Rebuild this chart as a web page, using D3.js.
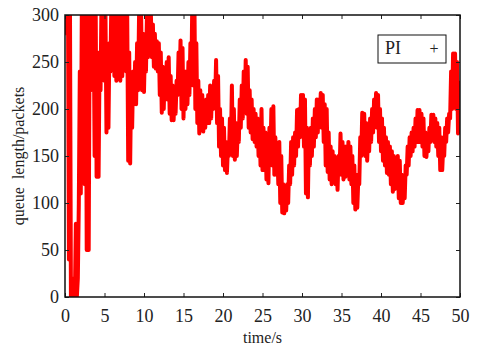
<!DOCTYPE html>
<html>
<head>
<meta charset="utf-8">
<script src="https://cdn.jsdelivr.net/npm/d3@7"></script>
<style>
  body { margin: 0; background: #fff; }
  svg text { font-family: "Liberation Serif", "DejaVu Serif", serif; fill: #222; }
</style>
</head>
<body>
<script>
// queue length (PI), every 0.25 s as the low / high edge of the noisy trace
var step = 0.25;
var qLow = [
  300, 280, 40, 0, 0, 0, 0, 100, 110, 180, 120, 50, 50, 220, 230, 150, 128, 128, 220, 240,
  230, 175, 180, 240, 250, 235, 230, 240, 230, 235, 250, 240, 145, 142, 180, 205, 205, 220, 250, 220,
  218, 240, 255, 265, 255, 245, 243, 240, 215, 196, 200, 215, 210, 195, 188, 188, 195, 215, 225, 200,
  190, 200, 205, 215, 240, 225, 200, 185, 174, 180, 176, 180, 185, 185, 190, 200, 205, 185, 160, 150,
  140, 135, 132, 150, 160, 150, 146, 150, 165, 180, 190, 200, 195, 180, 175, 168, 165, 160, 150, 140,
  135, 135, 125, 121, 150, 140, 130, 130, 120, 100, 90, 89, 92, 100, 120, 130, 140, 150, 160, 170,
  180, 160, 110, 106, 140, 150, 160, 170, 175, 185, 180, 165, 140, 133, 125, 120, 125, 120, 114, 130,
  130, 125, 128, 130, 125, 120, 100, 93, 95, 120, 150, 160, 150, 145, 155, 165, 175, 185, 180, 165,
  155, 145, 140, 132, 130, 120, 112, 115, 120, 105, 100, 100, 105, 130, 140, 150, 155, 160, 165, 165,
  165, 160, 150, 149, 155, 165, 170, 165, 160, 150, 135, 135, 150, 165, 175, 190, 200, 220, 200, 174];
var qHigh = [
  320, 320, 320, 20, 10, 78, 20, 240, 300, 320, 320, 250, 300, 320, 300, 320, 260, 250, 320, 320,
  300, 260, 270, 320, 320, 300, 280, 320, 320, 300, 320, 300, 260, 230, 240, 250, 270, 300, 310, 280,
  270, 300, 305, 300, 290, 280, 272, 270, 260, 245, 240, 250, 255, 235, 225, 220, 230, 260, 273, 265,
  240, 240, 250, 270, 320, 320, 270, 230, 220, 215, 205, 210, 215, 225, 220, 230, 252, 235, 200, 190,
  180, 165, 160, 190, 225, 200, 185, 180, 210, 225, 240, 252, 245, 220, 210, 200, 195, 190, 185, 200,
  180, 175, 165, 180, 200, 203, 170, 160, 165, 150, 120, 115, 120, 140, 165, 170, 175, 199, 200, 215,
  215, 210, 180, 175, 180, 190, 200, 210, 210, 217, 215, 205, 200, 175, 160, 155, 150, 145, 150, 174,
  165, 160, 160, 165, 160, 150, 140, 130, 125, 170, 196, 195, 185, 175, 190, 200, 210, 217, 215, 200,
  190, 180, 170, 165, 160, 155, 150, 145, 150, 145, 130, 125, 140, 160, 170, 175, 180, 190, 199, 199,
  195, 190, 175, 170, 180, 194, 194, 190, 185, 180, 170, 160, 180, 190, 195, 240, 259, 259, 250, 230];
var xTicks = [0, 5, 10, 15, 20, 25, 30, 35, 40, 45, 50];
var yTicks = [0, 50, 100, 150, 200, 250, 300];
var legendLabel = "PI";

var width = 480, height = 347;
var padL = 65, padR = 460, padT = 15, padB = 297;

var svg = d3.select("body").append("svg")
  .attr("width", width)
  .attr("height", height);

var x = d3.scaleLinear().domain([0, 50]).range([padL, padR]);
var y = d3.scaleLinear().domain([0, 300]).range([padB, padT]);

svg.append("clipPath").attr("id", "plotclip")
  .append("rect")
  .attr("x", padL).attr("y", padT)
  .attr("width", padR - padL).attr("height", padB - padT);

// trace swings between low and high edge inside each sample
var pts = [];
qLow.forEach(function(lo, i) {
  pts.push([i * step, lo]);
  pts.push([i * step + step / 2, qHigh[i]]);
});

var line = d3.line()
  .x(function(d) { return x(d[0]); })
  .y(function(d) { return y(d[1]); });

svg.append("path")
  .datum(pts)
  .attr("clip-path", "url(#plotclip)")
  .attr("fill", "none")
  .attr("stroke", "#ff0000")
  .attr("stroke-width", 4)
  .attr("stroke-linejoin", "round")
  .attr("d", line);

// axes, ticks point inward
var gx = svg.append("g")
  .attr("transform", "translate(0," + padB + ")")
  .call(d3.axisBottom(x).tickValues(xTicks).tickSizeInner(-4).tickSizeOuter(0).tickPadding(12));
var gy = svg.append("g")
  .attr("transform", "translate(" + padL + ",0)")
  .call(d3.axisLeft(y).tickValues(yTicks).tickSizeInner(-4).tickSizeOuter(0).tickPadding(6));
var gt = svg.append("g")
  .attr("transform", "translate(0," + padT + ")")
  .call(d3.axisTop(x).tickValues(xTicks).tickSizeInner(-4).tickSizeOuter(0).tickFormat(""));
var gr = svg.append("g")
  .attr("transform", "translate(" + padR + ",0)")
  .call(d3.axisRight(y).tickValues(yTicks).tickSizeInner(-4).tickSizeOuter(0).tickFormat(""));

[gx, gy, gt, gr].forEach(function(g) {
  g.select(".domain").remove();
  g.selectAll("line").attr("stroke", "#222");
  g.selectAll("text")
    .style("font-family", "'Liberation Serif', serif")
    .style("font-size", "18px")
    .attr("fill", "#222");
});

// frame
svg.append("rect")
  .attr("x", padL).attr("y", padT)
  .attr("width", padR - padL).attr("height", padB - padT)
  .attr("fill", "none")
  .attr("stroke", "#111")
  .attr("stroke-width", 1.5);

// axis titles
svg.append("text")
  .attr("x", (padL + padR) / 2)
  .attr("y", 343)
  .attr("text-anchor", "middle")
  .style("font-size", "16px")
  .text("time/s");

svg.append("text")
  .attr("transform", "translate(24," + (padT + padB) / 2 + ") rotate(-90)")
  .attr("text-anchor", "middle")
  .style("font-size", "16px")
  .style("white-space", "pre")
  .text("queue  length/packets");

// legend
svg.append("rect")
  .attr("x", 378).attr("y", 35)
  .attr("width", 68).attr("height", 28)
  .attr("fill", "#fff")
  .attr("stroke", "#111")
  .attr("stroke-width", 1);
svg.append("text")
  .attr("x", 385).attr("y", 54)
  .style("font-size", "18px")
  .text(legendLabel);
svg.append("text")
  .attr("x", 434).attr("y", 54)
  .attr("text-anchor", "middle")
  .style("font-size", "16px")
  .text("+");
</script>
</body>
</html>
